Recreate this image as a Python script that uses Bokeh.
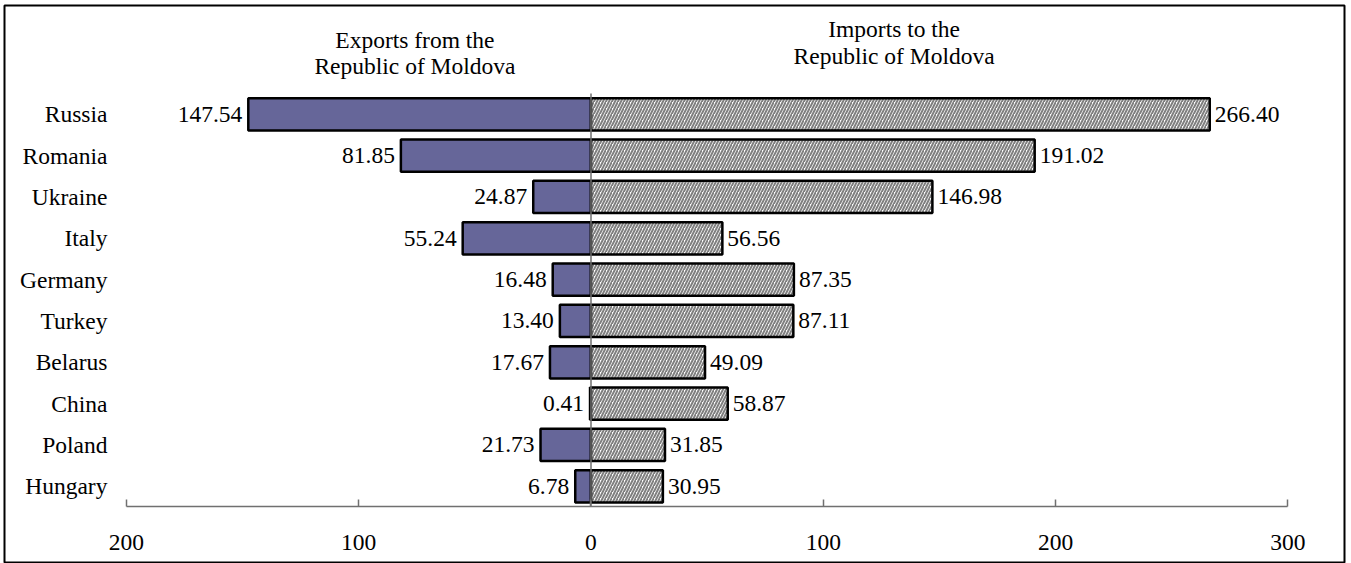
from bokeh.plotting import figure
from bokeh.models import (ColumnDataSource, LinearAxis, FixedTicker, Range1d, Label,
                          CustomJSTickFormatter, Grid)
from bokeh.core.properties import value
from bokeh.embed import file_html
from bokeh.resources import INLINE

# ---- data ----
countries = ["Russia", "Romania", "Ukraine", "Italy", "Germany",
             "Turkey", "Belarus", "China", "Poland", "Hungary"]
exports = [147.54, 81.85, 24.87, 55.24, 16.48, 13.40, 17.67, 0.41, 21.73, 6.78]
imports = [266.40, 191.02, 146.98, 56.56, 87.35, 87.11, 49.09, 58.87, 31.85, 30.95]
x_ticks = [-200, -100, 0, 100, 200, 300]
header_exports = ["Exports from the", "Republic of Moldova"]
header_imports = ["Imports to the", "Republic of Moldova"]

FONT = "Liberation Serif"
FS = "23.5px"

n = len(countries)
ypos = [n - 1 - i for i in range(n)]
src = ColumnDataSource(dict(
    country=countries, y=ypos,
    exp_left=[-v for v in exports], imp=imports,
    exp_lbl=[f"{v:.2f}" for v in exports],
    imp_lbl=[f"{v:.2f}" for v in imports],
))

p = figure(width=1351, height=563, output_backend="svg", toolbar_location=None,
           x_range=Range1d(-252.5, 324.4), y_range=Range1d(-1.868, 11.632),
           x_axis_location=None, y_axis_location=None,
           min_border_left=4, min_border_right=7, min_border_top=5, min_border_bottom=0)
for r in list(p.center):
    if isinstance(r, Grid):
        r.visible = False
p.outline_line_color = "black"
p.outline_line_width = 2
p.background_fill_color = "white"
p.border_fill_color = "white"

BAR_H = 0.78
p.hbar(y="y", left="exp_left", right=0, height=BAR_H, source=src,
       fill_color="#666699", line_color="black", line_width=2.5)
p.hbar(y="y", left=0, right="imp", height=BAR_H, source=src,
       fill_color="white", hatch_pattern="/", hatch_color="#808080",
       hatch_scale=6, hatch_weight=2, line_color="black", line_width=2.5)

# zero line
p.segment(x0=[0], y0=[-0.5], x1=[0], y1=[n - 0.5], line_color="#707070", line_width=1.5)

# value labels
p.text(x="exp_left", y="y", text="exp_lbl", source=src, text_align="right",
       text_baseline="middle", x_offset=-6, text_font=value(FONT),
       text_font_size=FS, text_color="black")
p.text(x="imp", y="y", text="imp_lbl", source=src, text_align="left",
       text_baseline="middle", x_offset=5, text_font=value(FONT),
       text_font_size=FS, text_color="black")

# x axis
xa = LinearAxis(fixed_location=-0.5, bounds=(-200, 300),
                ticker=FixedTicker(ticks=x_ticks),
                formatter=CustomJSTickFormatter(code="return Math.abs(tick).toFixed(0)"),
                major_tick_in=7, major_tick_out=0, minor_tick_line_color=None,
                axis_line_color="#707070", axis_line_width=1.5,
                major_tick_line_color="#707070", major_tick_line_width=1.5,
                major_label_standoff=28, major_label_text_font=FONT,
                major_label_text_font_size=FS, major_label_text_color="black")
p.add_layout(xa, "below")

# y axis (country names)
ya = LinearAxis(fixed_location=-200, ticker=FixedTicker(ticks=ypos),
                formatter=CustomJSTickFormatter(args=dict(names=countries),
                                                code="return names[names.length - 1 - Math.round(tick)]"),
                axis_line_color=None, major_tick_line_color=None, minor_tick_line_color=None,
                major_tick_in=0, major_tick_out=0, major_label_standoff=19,
                major_label_text_font=FONT, major_label_text_font_size=FS,
                major_label_text_color="black")
p.add_layout(ya, "left")

# headers
for txt, yy in zip(header_exports, [10.80, 10.17]):
    p.add_layout(Label(x=-75.8, y=yy, text=txt, text_align="center",
                       text_baseline="alphabetic", text_font=FONT,
                       text_font_size=FS, text_color="black"))
for txt, yy in zip(header_imports, [11.07, 10.42]):
    p.add_layout(Label(x=130.5, y=yy, text=txt, text_align="center",
                       text_baseline="alphabetic", text_font=FONT,
                       text_font_size=FS, text_color="black"))

open("out.html", "w").write(file_html(p, INLINE))
